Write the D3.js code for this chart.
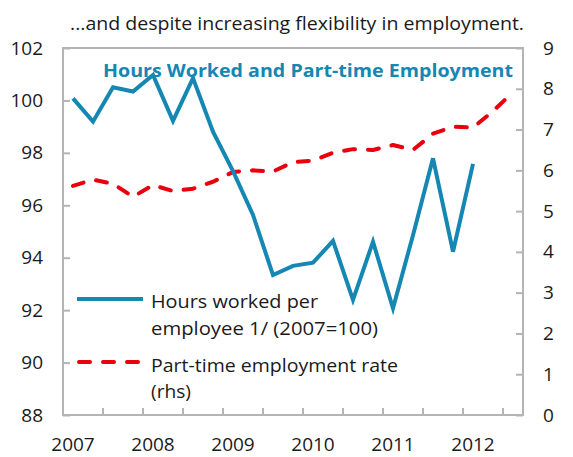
<!DOCTYPE html>
<html>
<head>
<meta charset="utf-8">
<script src="https://cdn.jsdelivr.net/npm/d3@7"></script>
<style>
  body { margin: 0; background: #fff; }
  svg { display: block; font-family: "Open Sans", Lato, sans-serif; }
</style>
</head>
<body>
<div id="chart"></div>
<script>
// quarterly, 2007Q1 - 2012Q3
const quarters = [
    "2007Q1", "2007Q2", "2007Q3", "2007Q4",
    "2008Q1", "2008Q2", "2008Q3", "2008Q4",
    "2009Q1", "2009Q2", "2009Q3", "2009Q4",
    "2010Q1", "2010Q2", "2010Q3", "2010Q4",
    "2011Q1", "2011Q2", "2011Q3", "2011Q4",
    "2012Q1", "2012Q2", "2012Q3"
];
const yearLabels = ["2007", "2008", "2009", "2010", "2011", "2012"];

// hours worked per employee (2007=100), left axis
const hoursWorked = [100.08, 99.19, 100.50, 100.34, 100.97, 99.22, 100.85, 98.81,
    97.30, 95.63, 93.34, 93.69, 93.81, 94.64, 92.39, 94.61,
    92.07, 94.86, 97.79, 94.23, 97.58];

// part-time employment rate, right axis
const partTime = [5.62, 5.77, 5.67, 5.35, 5.64, 5.49, 5.55, 5.72,
    5.96, 6.00, 5.97, 6.20, 6.24, 6.43, 6.52, 6.50,
    6.62, 6.50, 6.90, 7.07, 7.05, 7.45, 7.92];

const leftTicks = [88, 90, 92, 94, 96, 98, 100, 102];
const rightTicks = [0, 1, 2, 3, 4, 5, 6, 7, 8, 9];

const W = 573, H = 457;
const margin = { top: 48, right: 50, bottom: 42, left: 63 };
const width = W - margin.left - margin.right;
const height = H - margin.top - margin.bottom;

const blue = "#1487b3";
const red = "#e8000d";
const grey = "#b4b4b4";
const ink = "#1a1a1a";

const svg = d3.select("#chart").append("svg")
    .attr("width", W)
    .attr("height", H);

svg.append("text")
    .attr("x", 70)
    .attr("y", 30)
    .attr("textLength", 454)
    .attr("lengthAdjust", "spacingAndGlyphs")
    .style("font-size", "18.5px")
    .style("fill", ink)
    .text("...and despite increasing flexibility in employment.");

const g = svg.append("g")
    .attr("transform", `translate(${margin.left},${margin.top})`);

const x = d3.scaleBand()
    .domain(quarters)
    .range([0, width])
    .padding(0);
const cx = d => x(d) + x.bandwidth() / 2;

const yL = d3.scaleLinear().domain([88, 102]).range([height, 0]);
const yR = d3.scaleLinear().domain([0, 9]).range([height, 0]);

// axes
const leftAxis = g.append("g")
    .call(d3.axisLeft(yL).tickValues(leftTicks).tickSize(-7).tickPadding(20).tickFormat(d3.format("d")));
const rightAxis = g.append("g")
    .attr("transform", `translate(${width},0)`)
    .call(d3.axisRight(yR).tickValues(rightTicks).tickSize(-7).tickPadding(20).tickFormat(d3.format("d")));

const bottomAxis = g.append("g")
    .attr("transform", `translate(0,${height})`)
    .call(d3.axisBottom(x)
        .tickValues(yearLabels.map(y => y + "Q1"))
        .tickSize(0)
        .tickPadding(23)
        .tickFormat(d => d.slice(0, 4)));

[leftAxis, rightAxis, bottomAxis].forEach(a => {
    a.select(".domain").remove();
    a.selectAll(".tick line").attr("stroke", grey).attr("stroke-width", 2);
    a.selectAll(".tick text")
        .style("font-size", "19px")
        .style("font-family", "'Open Sans', sans-serif")
        .attr("fill", ink);
});

// category tick marks every two quarters
g.append("g")
    .selectAll("line")
    .data(quarters.filter((q, i) => i > 0 && i % 2 === 0))
    .join("line")
    .attr("x1", d => x(d))
    .attr("x2", d => x(d))
    .attr("y1", height)
    .attr("y2", height - 7)
    .attr("stroke", grey)
    .attr("stroke-width", 2);

g.append("rect")
    .attr("width", width)
    .attr("height", height)
    .attr("fill", "none")
    .attr("stroke", grey)
    .attr("stroke-width", 2);

g.append("text")
    .attr("x", 40)
    .attr("y", 29)
    .attr("textLength", 410)
    .attr("lengthAdjust", "spacingAndGlyphs")
    .style("font-size", "18.5px")
    .style("font-weight", "bold")
    .style("fill", blue)
    .text("Hours Worked and Part-time Employment");

// lines
const lineL = d3.line()
    .x((d, i) => cx(quarters[i]))
    .y(d => yL(d));
const lineR = d3.line()
    .x((d, i) => cx(quarters[i]))
    .y(d => yR(d));

g.append("path")
    .datum(partTime)
    .attr("fill", "none")
    .attr("stroke", red)
    .attr("stroke-width", 4)
    .attr("stroke-linecap", "round")
    .attr("stroke-linejoin", "round")
    .attr("stroke-dasharray", "11,13")
    .attr("d", lineR);

g.append("path")
    .datum(hoursWorked)
    .attr("fill", "none")
    .attr("stroke", blue)
    .attr("stroke-width", 4)
    .attr("stroke-linejoin", "miter")
    .attr("d", lineL);

// legend
const legend = g.append("g").attr("transform", "translate(14,0)");
legend.append("line")
    .attr("x1", 0).attr("x2", 66)
    .attr("y1", 251).attr("y2", 251)
    .attr("stroke", blue)
    .attr("stroke-width", 4);
legend.append("line")
    .attr("x1", 2).attr("x2", 66)
    .attr("y1", 314).attr("y2", 314)
    .attr("stroke", red)
    .attr("stroke-width", 4)
    .attr("stroke-linecap", "round")
    .attr("stroke-dasharray", "11,13");

const legendText = [
    { t: "Hours worked per", y: 260, w: 167 },
    { t: "employee 1/ (2007=100)", y: 287, w: 227 },
    { t: "Part-time employment rate", y: 324, w: 247 },
    { t: "(rhs)", y: 350, w: 40 }
];
legend.selectAll("text.lg")
    .data(legendText)
    .join("text")
    .attr("class", "lg")
    .attr("x", 74)
    .attr("y", d => d.y)
    .attr("textLength", d => d.w)
    .attr("lengthAdjust", "spacingAndGlyphs")
    .style("font-size", "18.5px")
    .style("fill", ink)
    .text(d => d.t);
</script>
</body>
</html>
